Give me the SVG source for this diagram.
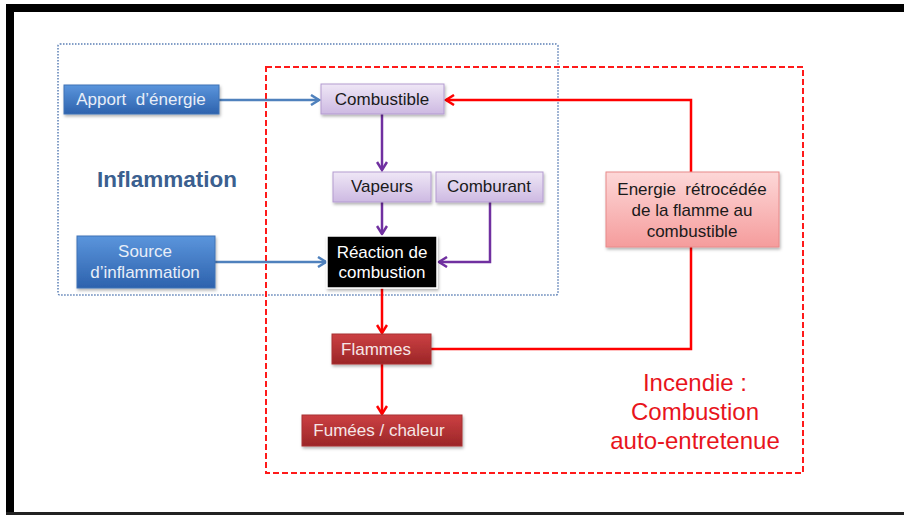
<svg xmlns="http://www.w3.org/2000/svg" width="904" height="515" viewBox="0 0 904 515">
<style>
text{font-family:"Liberation Sans",Arial,sans-serif;text-anchor:middle}
.t{font-size:17px}
.bl{fill:#e8eef8}
.dk{fill:#1a1a1a}
.wh{fill:#ffffff}
.rw{fill:#f6e6e6}
.red{fill:#e8141c;font-size:24px}
.blueC{fill:none;stroke:#4f81bd;stroke-width:2.5}
.purC{fill:none;stroke:#7030a0;stroke-width:2.5}
.redC{fill:none;stroke:#ff0000;stroke-width:2.5}
</style>
<defs>
<linearGradient id="gBlue" x1="0" y1="0" x2="0" y2="1"><stop offset="0" stop-color="#5b95dc"/><stop offset="1" stop-color="#2d62ad"/></linearGradient>
<linearGradient id="gPur" x1="0" y1="0" x2="0" y2="1"><stop offset="0" stop-color="#efe7f6"/><stop offset="1" stop-color="#cdb9e2"/></linearGradient>
<linearGradient id="gPink" x1="0" y1="0" x2="0" y2="1"><stop offset="0" stop-color="#fdd8d8"/><stop offset="1" stop-color="#f59c9c"/></linearGradient>
<linearGradient id="gRed" x1="0" y1="0" x2="0" y2="1"><stop offset="0" stop-color="#cc4043"/><stop offset="1" stop-color="#9b2627"/></linearGradient>
<filter id="sh" x="-10%" y="-20%" width="130%" height="160%"><feDropShadow dx="1" dy="2" stdDeviation="1.5" flood-color="#000" flood-opacity="0.3"/></filter>
<marker id="aB" viewBox="0 0 12 12" refX="10" refY="6" markerWidth="12" markerHeight="12" markerUnits="userSpaceOnUse" orient="auto"><path d="M2,1 L10,6 L2,11" fill="none" stroke="#4f81bd" stroke-width="2.5"/></marker>
<marker id="aP" viewBox="0 0 12 12" refX="10" refY="6" markerWidth="12" markerHeight="12" markerUnits="userSpaceOnUse" orient="auto"><path d="M2,1 L10,6 L2,11" fill="none" stroke="#7030a0" stroke-width="2.5"/></marker>
<marker id="aR" viewBox="0 0 12 12" refX="10" refY="6" markerWidth="12" markerHeight="12" markerUnits="userSpaceOnUse" orient="auto"><path d="M2,1 L10,6 L2,11" fill="none" stroke="#ff0000" stroke-width="2.5"/></marker>
</defs>
<rect x="0" y="0" width="904" height="515" fill="#ffffff"/>
<!-- frame -->
<rect x="6" y="4" width="898" height="8" fill="#000"/>
<rect x="6" y="4" width="8" height="511" fill="#000"/>
<rect x="6" y="512" width="898" height="3" fill="#222"/>
<!-- group areas -->
<g id="zone-inflammation">
<rect x="58" y="44" width="500" height="251" rx="2" fill="none" stroke="#5b7fb5" stroke-width="1.5" stroke-dasharray="1.5 1.5"/>
<text x="167" y="187" style="font-size:22.5px;font-weight:bold;fill:#3b5f8f">Inflammation</text>
</g>
<g id="zone-incendie">
<rect x="266" y="67" width="537" height="406" fill="none" stroke="#ff1a1a" stroke-width="2" stroke-dasharray="6 3"/>
<text class="red" x="695" y="391">Incendie :</text>
<text class="red" x="695" y="420">Combustion</text>
<text class="red" x="695" y="449">auto-entretenue</text>
</g>
<g id="connectors">
<line class="blueC" x1="219" y1="100" x2="319" y2="100" marker-end="url(#aB)"/>
<line class="blueC" x1="215" y1="262" x2="326" y2="262" marker-end="url(#aB)"/>
<line class="purC" x1="382" y1="114" x2="382" y2="170" marker-end="url(#aP)"/>
<line class="purC" x1="382" y1="202" x2="382" y2="234" marker-end="url(#aP)"/>
<polyline class="purC" points="490,202 490,262 439,262" marker-end="url(#aP)"/>
<line class="redC" x1="382" y1="288" x2="382" y2="333" marker-end="url(#aR)"/>
<line class="redC" x1="382" y1="364" x2="382" y2="414" marker-end="url(#aR)"/>
<polyline class="redC" points="431,349 691,349 691,100 446,100" marker-end="url(#aR)"/>
</g>
<g id="apport">
<rect x="64" y="85" width="155" height="29" fill="url(#gBlue)" stroke="#3f72b5" stroke-width="1" filter="url(#sh)"/>
<text class="t bl" x="141" y="105" xml:space="preserve">Apport  d’énergie</text>
</g>
<g id="source">
<rect x="77" y="236" width="138" height="52" fill="url(#gBlue)" stroke="#3f72b5" stroke-width="1" filter="url(#sh)"/>
<text class="t bl" x="145" y="257">Source</text>
<text class="t bl" x="145" y="278">d’inflammation</text>
</g>
<g id="combustible">
<rect x="321" y="84" width="123" height="30" fill="url(#gPur)" stroke="#b39bd0" stroke-width="1" filter="url(#sh)"/>
<text class="t dk" x="382" y="105">Combustible</text>
</g>
<g id="vapeurs">
<rect x="333" y="172" width="98" height="30" fill="url(#gPur)" stroke="#b39bd0" stroke-width="1" filter="url(#sh)"/>
<text class="t dk" x="382" y="192">Vapeurs</text>
</g>
<g id="comburant">
<rect x="436" y="172" width="107" height="30" fill="url(#gPur)" stroke="#b39bd0" stroke-width="1" filter="url(#sh)"/>
<text class="t dk" x="489" y="192">Comburant</text>
</g>
<g id="reaction">
<rect x="327" y="236" width="110" height="52" fill="#000" stroke="#ffffff" stroke-width="1.5" filter="url(#sh)"/>
<text class="t wh" x="382" y="258">Réaction de</text>
<text class="t wh" x="382" y="278">combustion</text>
</g>
<g id="energie">
<rect x="606" y="172" width="173" height="75" fill="url(#gPink)" stroke="#e88a8a" stroke-width="1" filter="url(#sh)"/>
<text class="t dk" x="692" y="195" xml:space="preserve">Energie  rétrocédée</text>
<text class="t dk" x="692" y="216">de la flamme au</text>
<text class="t dk" x="692" y="237">combustible</text>
</g>
<g id="flammes">
<rect x="332" y="334" width="99" height="30" fill="url(#gRed)" stroke="#a83032" stroke-width="1" filter="url(#sh)"/>
<text class="t rw" x="376" y="355">Flammes</text>
</g>
<g id="fumees">
<rect x="302" y="415" width="160" height="31" fill="url(#gRed)" stroke="#a83032" stroke-width="1" filter="url(#sh)"/>
<text class="t rw" x="379" y="436">Fumées / chaleur</text>
</g>
</svg>
